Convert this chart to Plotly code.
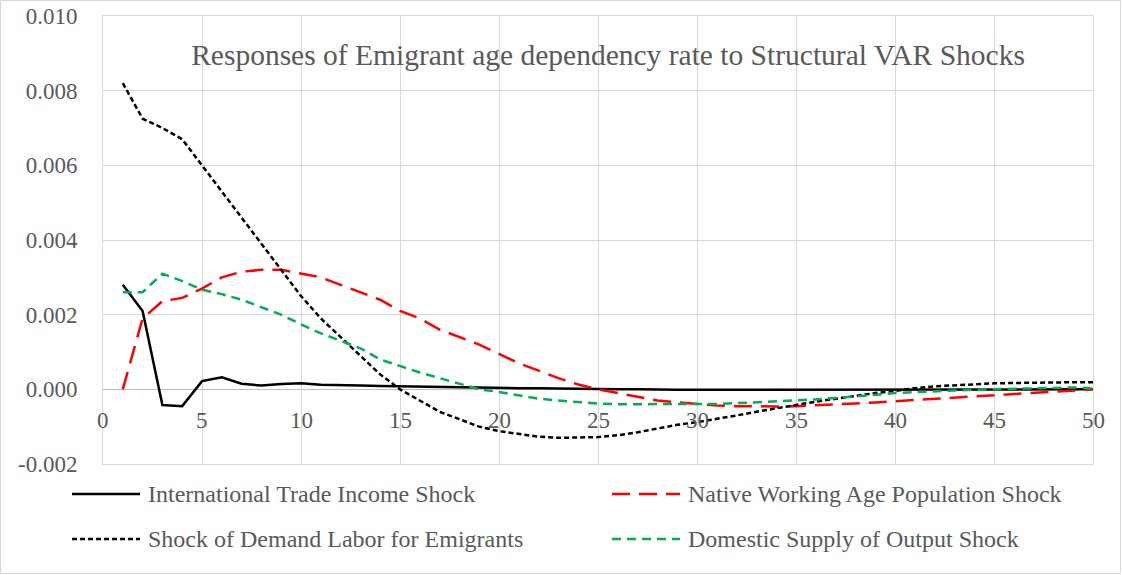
import plotly.graph_objects as go

periods = list(range(1, 51))

trade_income = [0.0028, 0.0021, -0.00042, -0.00045, 0.00022, 0.00032, 0.00015, 0.0001, 0.00014, 0.00016,
                0.00012, 0.0001, 0.0001, 0.00009, 0.00008, 0.00007, 0.00006, 0.00005, 0.00005, 0.00004,
                0.00003, 0.00003, 0.00002, 0.00001, 0.00001, 0.0, 0.0, -0.00001, -0.00001, -0.00001,
                -0.00001, -0.00001, -0.00001, -0.00001, -0.00001, -0.00001, 0.0, 0.0, 0.0, 0.0,
                0.0, 0.0, 0.0, 0.0, 0.0, 0.0, 0.0, 0.0, 0.0, 0.0]

native_working = [0.0, 0.0019, 0.00236, 0.00245, 0.0027, 0.003, 0.00315, 0.0032, 0.0032, 0.0031,
                  0.003, 0.0028, 0.0026, 0.0024, 0.0021, 0.0019, 0.0016, 0.0014, 0.0012, 0.00095,
                  0.0007, 0.0005, 0.0003, 0.00013, 0.0, -0.0001, -0.0002, -0.0003, -0.00035, -0.0004,
                  -0.00043, -0.00045, -0.00046, -0.00046, -0.00045, -0.00043, -0.00041, -0.00038, -0.00035, -0.00032,
                  -0.00029, -0.00026, -0.00023, -0.0002, -0.00016, -0.00013, -0.0001, -0.00007, -0.00004, 0.0]

demand_labor = [0.0082, 0.00725, 0.0070, 0.0067, 0.0060, 0.0053, 0.0046, 0.0039, 0.0032, 0.0025,
                0.0019, 0.0014, 0.0009, 0.0004, 0.0, -0.0003, -0.0006, -0.0008, -0.001, -0.00112,
                -0.0012, -0.00127, -0.0013, -0.0013, -0.00128, -0.00123, -0.00115, -0.00105, -0.00095, -0.00088,
                -0.0008, -0.0007, -0.0006, -0.0005, -0.00042, -0.00033, -0.00025, -0.00017, -0.0001, -0.00004,
                0.00003, 0.00008, 0.00011, 0.00014, 0.00016, 0.00017, 0.00018, 0.00019, 0.00019, 0.00019]

domestic_supply = [0.0026, 0.0026, 0.0031, 0.0029, 0.00267, 0.00255, 0.0024, 0.0022, 0.002, 0.00174,
                   0.0015, 0.0013, 0.0011, 0.0008, 0.00062, 0.00045, 0.0003, 0.00015, 0.0, -0.00007,
                   -0.00017, -0.00025, -0.0003, -0.00035, -0.00038, -0.0004, -0.0004, -0.0004, -0.0004, -0.0004,
                   -0.00039, -0.00037, -0.00035, -0.00032, -0.0003, -0.00027, -0.00023, -0.0002, -0.00015, -0.0001,
                   -0.00007, -0.00005, -0.00003, -0.00001, 0.0, 0.00002, 0.00004, 0.00005, 0.00005, 0.00003]

series_names = ["International Trade Income Shock", "Native Working Age Population Shock",
                "Shock of Demand Labor for Emigrants", "Domestic Supply of Output Shock"]

x_ticks = [0, 5, 10, 15, 20, 25, 30, 35, 40, 45, 50]
y_ticks = [-0.002, 0.0, 0.002, 0.004, 0.006, 0.008, 0.010]
y_tick_labels = ["-0.002", "0.000", "0.002", "0.004", "0.006", "0.008", "0.010"]

title_text = "Responses of Emigrant age dependency rate to Structural VAR Shocks"

FONT = "Liberation Serif"
GRAY = "#595959"
GRID = "#d9d9d9"

series = [trade_income, native_working, demand_labor, domestic_supply]
colors = ["black", "#ff0000", "black", "#00b050"]
dashes = ["solid", "18px,9px", "5px,3px", "9px,6px"]

fig = go.Figure()
for vals, name, col, dsh in zip(series, series_names, colors, dashes):
    fig.add_trace(go.Scatter(x=periods, y=vals, mode="lines", name=name,
                             line=dict(color=col, width=2.5, dash=dsh), showlegend=False))

W, H = 1122, 575
L, R, T, B = 103, 29, 16, 111
pw = W - L - R
ph = H - T - B

def px_x(p):
    return (p - L) / pw

def px_y(p):
    return 1 - (p - T) / ph

annotations = []
for t in x_ticks:
    annotations.append(dict(x=t, y=0, xref="x", yref="y", text=str(t), showarrow=False,
                            yanchor="middle", xanchor="center", yshift=-31,
                            font=dict(family=FONT, size=23, color=GRAY)))

shapes = [dict(type="rect", xref="paper", yref="paper",
               x0=px_x(0.5), x1=px_x(W - 1.5), y0=px_y(H - 1.5), y1=px_y(0.5),
               line=dict(color=GRID, width=1), fillcolor="rgba(0,0,0,0)", layer="below")]

# legend (drawn manually: 2 columns x 2 rows)
legend_pos = [(72, 494), (612, 494), (72, 539), (612, 539)]
for (lx, ly), name, col, dsh in zip(legend_pos, series_names, colors, dashes):
    shapes.append(dict(type="line", xref="paper", yref="paper",
                       x0=px_x(lx), x1=px_x(lx + 68), y0=px_y(ly), y1=px_y(ly),
                       line=dict(color=col, width=2.5, dash=dsh)))
    annotations.append(dict(x=px_x(lx + 74), y=px_y(ly), xref="paper", yref="paper", text=name,
                            showarrow=False, xanchor="left", yanchor="middle",
                            font=dict(family=FONT, size=24, color=GRAY)))

fig.update_layout(
    width=W, height=H,
    margin=dict(l=L, r=R, t=T, b=B, autoexpand=False),
    paper_bgcolor="white", plot_bgcolor="white",
    font=dict(family=FONT, color=GRAY),
    title=dict(text=title_text, x=608 / W, xanchor="center", y=1 - 55 / H, yanchor="middle",
               yref="container", xref="container",
               font=dict(family=FONT, size=29.5, color=GRAY)),
    xaxis=dict(range=[0, 50], tickvals=x_ticks, showticklabels=False, showgrid=True,
               gridcolor=GRID, gridwidth=1, zeroline=False, showline=True, linecolor=GRID,
               mirror=True),
    yaxis=dict(range=[-0.002, 0.010], tickvals=y_ticks, ticktext=y_tick_labels, showgrid=True,
               gridcolor=GRID, gridwidth=1, zeroline=True, zerolinecolor="#bfbfbf", zerolinewidth=1,
               showline=True, linecolor=GRID, mirror=True, ticks="outside", ticklen=0,
               ticklabelstandoff=20, tickfont=dict(family=FONT, size=23, color=GRAY)),
    annotations=annotations,
    shapes=shapes,
    showlegend=False,
)

fig.write_html("out.html", config={"displayModeBar": False},
               post_script="document.body.style.margin='0';document.body.style.padding='0';")
